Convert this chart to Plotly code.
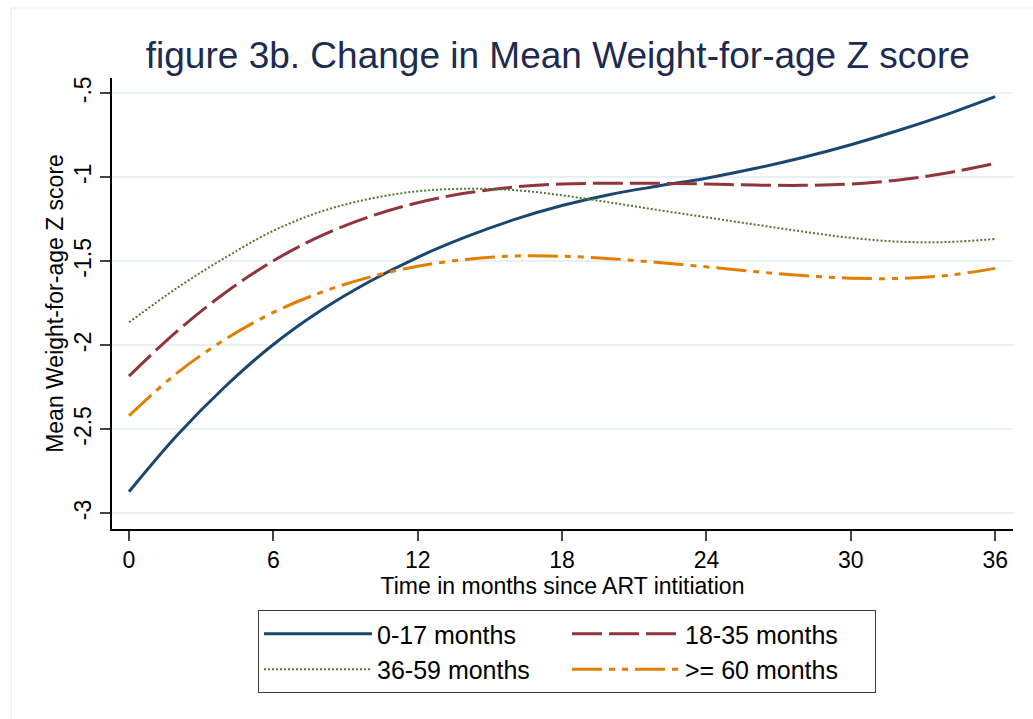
import plotly.graph_objects as go

months = [0, 2, 4, 6, 8, 10, 12, 14, 16, 18, 20, 22, 24, 26, 28, 30, 32, 34, 36]

z_0_17 = [-2.871, -2.535, -2.245, -1.995, -1.790, -1.620, -1.476, -1.355, -1.252, -1.168,
          -1.102, -1.052, -1.005, -0.948, -0.882, -0.806, -0.720, -0.625, -0.520]
z_18_35 = [-2.183, -1.915, -1.687, -1.497, -1.347, -1.234, -1.151, -1.094, -1.058, -1.040,
           -1.035, -1.036, -1.040, -1.046, -1.048, -1.040, -1.016, -0.974, -0.917]
z_36_59 = [-1.863, -1.658, -1.478, -1.318, -1.203, -1.128, -1.083, -1.068, -1.076, -1.107,
           -1.150, -1.195, -1.238, -1.281, -1.323, -1.360, -1.383, -1.385, -1.367]
z_60 = [-2.419, -2.164, -1.964, -1.804, -1.684, -1.594, -1.529, -1.489, -1.468, -1.470,
        -1.484, -1.507, -1.533, -1.561, -1.585, -1.600, -1.602, -1.584, -1.542]

series_names = ["0-17 months", "18-35 months", "36-59 months", ">= 60 months"]
series_values = [z_0_17, z_18_35, z_36_59, z_60]
colors = ["#1a476f", "#90353b", "#55752f", "#e37e00"]
dashes = ["solid", "30px,7px", "2px,2px", "30px,7px,6px,7px,6px,7px"]
widths = [3, 3, 2, 3]

x_ticks = [0, 6, 12, 18, 24, 30, 36]
y_ticks = [-0.5, -1, -1.5, -2, -2.5, -3]
y_tick_labels = ["-.5", "-1", "-1.5", "-2", "-2.5", "-3"]

FONT = "Arial, 'Liberation Sans', sans-serif"

fig = go.Figure()
for name, vals, c, d, w in zip(series_names, series_values, colors, dashes, widths):
    fig.add_trace(go.Scatter(
        x=months, y=vals, name=name, mode="lines",
        line=dict(color=c, dash=d, width=w, shape="spline", smoothing=1.0),
    ))

W, H = 1033, 719
L, R, T, B = 112, 20, 78, 190
pw, ph = W - L - R, H - T - B


def px_x(px):
    return (px - L) / pw


def px_y(py):
    return (H - B - py) / ph


fig.update_layout(
    width=W, height=H,
    margin=dict(l=L, r=R, t=T, b=B, autoexpand=False),
    paper_bgcolor="white", plot_bgcolor="white",
    font=dict(family=FONT, color="black", size=23),
    title=dict(
        text="figure 3b. Change in Mean Weight-for-age Z score",
        x=0.54, xanchor="center", y=1 - 55 / H, yanchor="middle",
        font=dict(size=37, color="#1c2b4f", family=FONT),
    ),
    xaxis=dict(
        range=[-0.707, 36.74], tickvals=x_ticks, ticks="outside", ticklen=10,
        tickwidth=1.5, tickcolor="#444", showgrid=False, zeroline=False,
        showline=True, linecolor="black", linewidth=1.5,
        tickfont=dict(size=23),
        title=dict(text="Time in months since ART intitiation", font=dict(size=23), standoff=0),
    ),
    yaxis=dict(
        range=[-3.093, -0.409], tickvals=y_ticks, ticktext=y_tick_labels,
        tickangle=-90, ticks="outside", ticklen=10, tickwidth=1.5, tickcolor="#444",
        showgrid=True, gridcolor="#e8f0f2", gridwidth=2, zeroline=False,
        showline=True, linecolor="black", linewidth=1.5,
        tickfont=dict(size=23),
        title=dict(text="Mean Weight-for-age Z score", font=dict(size=23), standoff=0),
    ),
    legend=dict(
        orientation="h", x=px_x(258), y=px_y(610), xanchor="left", yanchor="top",
        bgcolor="white", bordercolor="#3c3c3c", borderwidth=1,
        font=dict(size=25, family=FONT), itemwidth=108,
        entrywidth=185, entrywidthmode="pixels", traceorder="normal",
    ),
    showlegend=True,
)

fig.add_shape(type="rect", xref="paper", yref="paper",
              x0=px_x(11), x1=px_x(1045), y0=px_y(730), y1=px_y(8),
              line=dict(color="#e4ecee", width=1), fillcolor="rgba(0,0,0,0)", layer="below")

fig.write_html("out.html")
